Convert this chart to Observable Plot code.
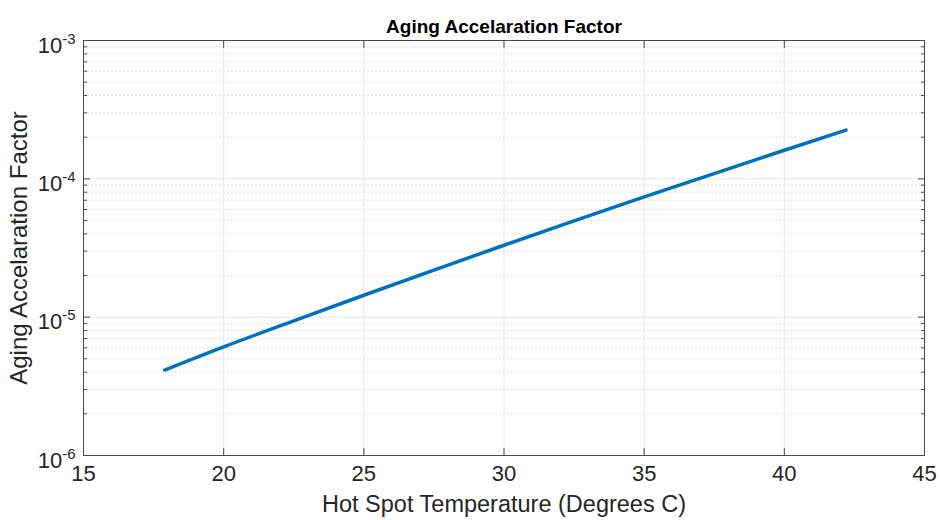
<!DOCTYPE html>
<html>
<head>
<meta charset="utf-8">
<script src="https://cdn.jsdelivr.net/npm/d3@7"></script>
<script src="https://cdn.jsdelivr.net/npm/@observablehq/plot@0.6"></script>
<style>
  html, body { margin: 0; padding: 0; background: #fff; }
  #chart svg { display: block; }
  g[aria-label="x-axis label"] text { font-size: 23.5px; }
  g[aria-label="y-axis label"] text { font-size: 24px; }
</style>
</head>
<body>
<div id="chart"></div>
<script>
// Data
const temperature = [17.9, 20, 22.5, 25, 27.5, 30, 32.5, 35, 37.5, 40, 42.2];
const agingFactor = [4.15e-6, 6.1e-6, 9.4e-6, 1.44e-5, 2.19e-5, 3.31e-5, 4.97e-5, 7.4e-5, 1.09e-4, 1.61e-4, 2.25e-4];
const xTicks = [15, 20, 25, 30, 35, 40, 45];
const yMajor = [1e-6, 1e-5, 1e-4, 1e-3];
const yMinor = [2e-6,3e-6,4e-6,5e-6,6e-6,7e-6,8e-6,9e-6,
                2e-5,3e-5,4e-5,5e-5,6e-5,7e-5,8e-5,9e-5,
                2e-4,3e-4,4e-4,5e-4,6e-4,7e-4,8e-4,9e-4];
const yLabels = ["10^-6", "10^-5", "10^-4", "10^-3"];
const title = "Aging Accelaration Factor";
const xLabel = "Hot Spot Temperature (Degrees C)";
const yLabel = "Aging Accelaration Factor";

const data = temperature.map((t, i) => ({t, f: agingFactor[i]}));
const axisColor = "#4a4a4a";
const noText = () => "";

const chart = Plot.plot({
  width: 940,
  height: 520,
  marginLeft: 83,
  marginRight: 16,
  marginTop: 40,
  marginBottom: 65,
  style: {fontFamily: "'Liberation Sans', Arial, sans-serif", fontSize: "22px", color: "#262626", background: "#fff"},
  x: {domain: [15, 45]},
  y: {type: "log", domain: [1e-6, 1e-3]},
  marks: [
    Plot.ruleY(yMinor, {stroke: "#d2d2d2", strokeDasharray: "1.5,2.5"}),
    Plot.ruleY(yMajor, {stroke: "#e6e6e6"}),
    Plot.ruleX(xTicks, {stroke: "#e6e6e6"}),
    Plot.line(data, {x: "t", y: "f", stroke: "#0072BD", strokeWidth: 3.5, curve: "monotone-x"}),
    Plot.frame({stroke: axisColor}),
    // x ticks inward, bottom and top
    Plot.axisX(xTicks, {anchor: "bottom", tickSize: -7, tickFormat: noText, label: null, stroke: axisColor}),
    Plot.axisX(xTicks, {anchor: "top", tickSize: -7, tickFormat: noText, label: null, stroke: axisColor}),
    Plot.axisX(xTicks, {anchor: "bottom", tickSize: 0, tickPadding: 10, label: xLabel, labelAnchor: "center", labelArrow: "none", labelOffset: 56}),
    // y ticks inward, left and right
    Plot.axisY(yMajor, {anchor: "left", tickSize: -7, tickFormat: noText, label: null, stroke: axisColor}),
    Plot.axisY(yMinor, {anchor: "left", tickSize: -4, tickFormat: noText, label: null, stroke: axisColor}),
    Plot.axisY(yMajor, {anchor: "right", tickSize: -7, tickFormat: noText, label: null, stroke: axisColor}),
    Plot.axisY(yMinor, {anchor: "right", tickSize: -4, tickFormat: noText, label: null, stroke: axisColor}),
    Plot.axisY(yMajor, {anchor: "left", tickSize: 0, tickPadding: 8, tickFormat: (d) => yLabels[yMajor.indexOf(d)], label: yLabel, labelAnchor: "center", labelArrow: "none", labelOffset: 74}),
    Plot.text([title], {frameAnchor: "top", dy: -21, fontWeight: "bold", fontSize: 19, fill: "#000"})
  ]
});

// Render exponents as superscripts
chart.querySelectorAll('g[aria-label="y-axis tick label"] text').forEach(t => {
  const s = t.textContent;
  const m = s.match(/^10\^(-?\d+)$/);
  if (!m) return;
  t.textContent = "";
  t.setAttribute("dy", "5px");
  const base = document.createElementNS("http://www.w3.org/2000/svg", "tspan");
  base.textContent = "10";
  base.setAttribute("font-size", "22px");
  const exp = document.createElementNS("http://www.w3.org/2000/svg", "tspan");
  exp.textContent = m[1];
  exp.setAttribute("dy", "-0.6em");
  exp.setAttribute("font-size", "15px");
  t.appendChild(base);
  t.appendChild(exp);
});

document.getElementById("chart").appendChild(chart);
</script>
</body>
</html>
